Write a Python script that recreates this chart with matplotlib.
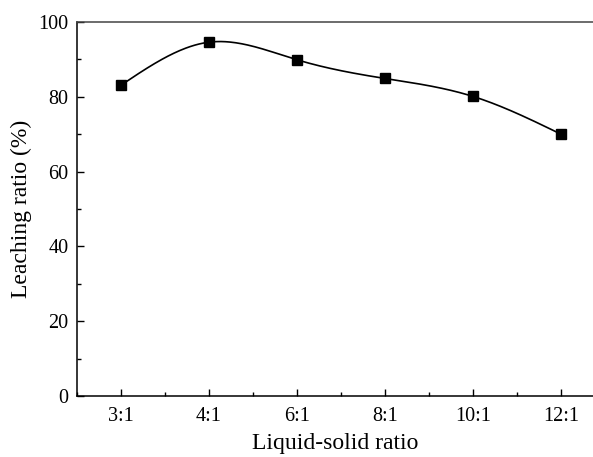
import numpy as np
import matplotlib
matplotlib.use("Agg")
import matplotlib.pyplot as plt
from matplotlib.ticker import MultipleLocator

ratios = ["3:1", "4:1", "6:1", "8:1", "10:1", "12:1"]
leaching = [83.1, 94.6, 89.9, 84.9, 80.1, 70.0]


def natural_spline(x, y, n=300):
    # plain natural cubic spline, like the smooth line Origin draws
    x = np.asarray(x, float)
    y = np.asarray(y, float)
    k = len(x)
    h = np.diff(x)
    A = np.zeros((k, k))
    b = np.zeros(k)
    A[0, 0] = A[-1, -1] = 1
    for i in range(1, k - 1):
        A[i, i - 1] = h[i - 1]
        A[i, i] = 2 * (h[i - 1] + h[i])
        A[i, i + 1] = h[i]
        b[i] = 6 * ((y[i + 1] - y[i]) / h[i] - (y[i] - y[i - 1]) / h[i - 1])
    M = np.linalg.solve(A, b)
    xs = np.linspace(x[0], x[-1], n)
    idx = np.clip(np.searchsorted(x, xs) - 1, 0, k - 2)
    x0, x1 = x[idx], x[idx + 1]
    hh = x1 - x0
    ys = (M[idx] * (x1 - xs) ** 3 / (6 * hh) + M[idx + 1] * (xs - x0) ** 3 / (6 * hh)
          + (y[idx] / hh - M[idx] * hh / 6) * (x1 - xs)
          + (y[idx + 1] / hh - M[idx + 1] * hh / 6) * (xs - x0))
    return xs, ys


plt.rcParams['font.family'] = ['Liberation Serif', 'DejaVu Serif']
plt.rcParams['font.size'] = 14.5

fig = plt.figure(figsize=(5.93, 4.57), dpi=100)
ax = fig.add_axes([77 / 593, 1 - 396 / 457, (593 - 77) / 593, (396 - 22) / 457])

pos = np.arange(len(ratios))
xs, ys = natural_spline(pos, leaching)
ax.plot(xs, ys, color='black', lw=1.2)
ax.plot(pos, leaching, 's', color='black', ms=7)

ax.set_xlim(-0.5, -0.5 + (593 - 77) / 88)
ax.set_ylim(0, 100)
ax.set_xticks(pos)
ax.set_xticklabels(ratios)
ax.xaxis.set_minor_locator(MultipleLocator(0.5))
ax.yaxis.set_major_locator(MultipleLocator(20))
ax.yaxis.set_minor_locator(MultipleLocator(10))
ax.tick_params(which='both', direction='in', width=1)
ax.tick_params(which='major', length=5)
ax.tick_params(which='minor', length=3)
ax.tick_params(axis='y', pad=6)
ax.tick_params(axis='x', pad=8)
ax.spines['right'].set_visible(False)
for s in ['left', 'bottom', 'top']:
    ax.spines[s].set_linewidth(1.1)
ax.spines['top'].set_color('#444444')

ax.set_xlabel('Liquid-solid ratio', fontsize=17, labelpad=5)
ax.set_ylabel('Leaching ratio (%)', fontsize=17)
ax.yaxis.set_label_coords(-0.087, 0.5)

fig.savefig('out.png', dpi=100)
